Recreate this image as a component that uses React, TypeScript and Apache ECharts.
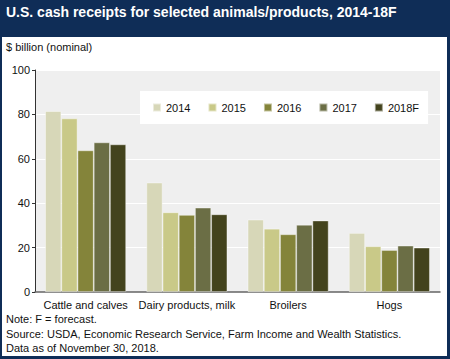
import React, { useEffect, useRef } from "react";
import * as echarts from "echarts";

const categories = ["Cattle and calves", "Dairy products, milk", "Broilers", "Hogs"];
const seriesNames = ["2014", "2015", "2016", "2017", "2018F"];
const v2014 = [81.5, 49.3, 32.6, 26.6];
const v2015 = [78.2, 35.9, 28.5, 20.6];
const v2016 = [63.8, 34.7, 26.0, 18.9];
const v2017 = [67.4, 38.0, 30.3, 20.9];
const v2018F = [66.5, 35.0, 32.2, 20.0];
const seriesValues = [v2014, v2015, v2016, v2017, v2018F];
const colors = ["#d7d7b8", "#c9c988", "#84843a", "#6b6e45", "#43431d"];

const FONT = "Liberation Sans, Arial, sans-serif";
const NAVY = "#0f2d57";

export default function App() {
  const ref = useRef<HTMLDivElement>(null);
  useEffect(() => {
    if (!ref.current) return;
    const chart = echarts.init(ref.current, undefined, { renderer: "svg" });
    chart.setOption({
      animation: false,
      backgroundColor: "#ffffff",
      textStyle: { fontFamily: FONT },
      graphic: [
        { type: "rect", shape: { x: 0, y: 0, width: 450, height: 37 }, style: { fill: NAVY }, z: -1 },
        { type: "rect", shape: { x: 0, y: 0, width: 2, height: 359 }, style: { fill: NAVY }, z: -1 },
        { type: "rect", shape: { x: 447, y: 0, width: 3, height: 359 }, style: { fill: NAVY }, z: -1 },
        { type: "rect", shape: { x: 0, y: 356, width: 450, height: 3 }, style: { fill: NAVY }, z: -1 },
        {
          type: "text", left: 6, top: 5,
          style: { text: "U.S. cash receipts for selected animals/products, 2014-18F", fill: "#ffffff", font: `bold 14px ${FONT}` },
        },
        {
          type: "text", left: 6, top: 41,
          style: { text: "$ billion (nominal)", fill: "#111", font: `11px ${FONT}` },
        },
        {
          type: "text", left: 6, top: 312,
          style: {
            text: "Note: F = forecast.\nSource: USDA, Economic Research Service, Farm Income and Wealth Statistics.\nData as of November 30, 2018.",
            fill: "#111", font: `11px ${FONT}`, lineHeight: 14.5,
          },
        },
      ],
      grid: { left: 35, right: 10, top: 70, bottom: 67, show: true, backgroundColor: "#efefef", borderWidth: 0 },
      legend: {
        data: seriesNames,
        left: 140, top: 91,
        backgroundColor: "#ffffff",
        padding: [11, 9, 11, 12],
        itemWidth: 8, itemHeight: 8, itemGap: 17,
        icon: "rect",
        textStyle: { fontSize: 11, color: "#111", fontFamily: FONT },
      },
      xAxis: {
        type: "category",
        data: categories,
        axisLine: { lineStyle: { color: "#666", width: 1.5 } },
        axisTick: { show: false },
        axisLabel: { fontSize: 11, color: "#111", margin: 7, interval: 0, fontFamily: FONT },
      },
      yAxis: {
        type: "value",
        min: 0, max: 100, interval: 20,
        axisLine: { show: true, lineStyle: { color: "#333", width: 1 } },
        axisTick: { show: true, length: 3, lineStyle: { color: "#333" } },
        axisLabel: { fontSize: 11, color: "#111", margin: 5, fontFamily: FONT },
        splitLine: { lineStyle: { color: "#ffffff", width: 1 } },
      },
      series: seriesNames.map((name, i) => ({
        name,
        type: "bar",
        data: seriesValues[i],
        barGap: "0%",
        barCategoryGap: "20%",
        itemStyle: { color: colors[i], borderColor: "rgba(255,255,255,0.5)", borderWidth: 0.8 },
      })),
    });
    return () => chart.dispose();
  }, []);
  return <div ref={ref} style={{ position: "absolute", left: 0, top: 0, width: 450, height: 359 }} />;
}
